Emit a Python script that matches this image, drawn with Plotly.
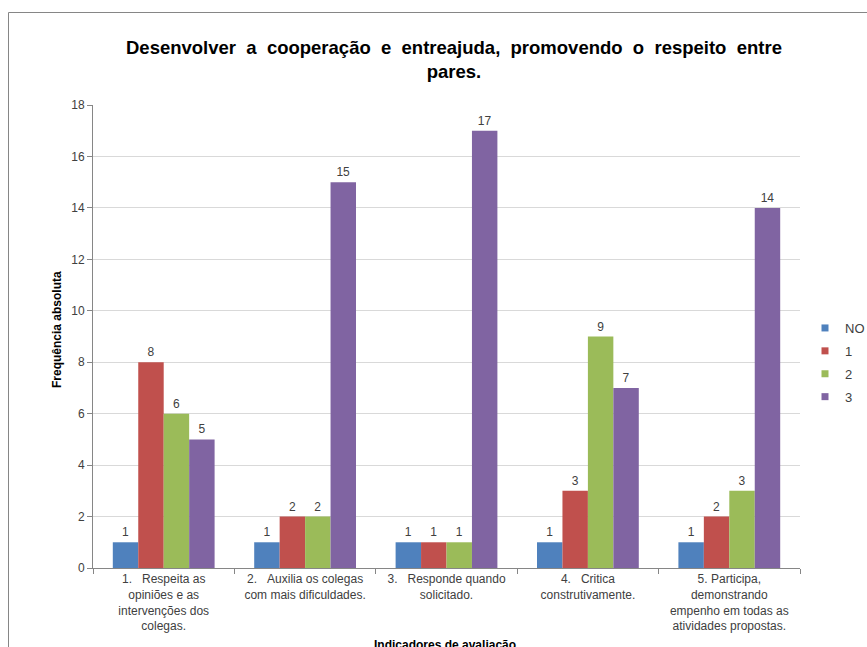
import plotly.graph_objects as go

categories = [
    "1.\u00a0\u00a0\u00a0Respeita as<br>opiniões e as<br>intervenções dos<br>colegas.",
    "2.\u00a0\u00a0\u00a0Auxilia os colegas<br>com mais dificuldades.",
    "3.\u00a0\u00a0\u00a0Responde quando<br>solicitado.",
    "4.\u00a0\u00a0\u00a0Critica<br>construtivamente.",
    "5. Participa,<br>demonstrando<br>empenho em todas as<br>atividades propostas.",
]
series_names = ["NO", "1", "2", "3"]
vals_NO = [1, 1, 1, 1, 1]
vals_1 = [8, 2, 1, 3, 2]
vals_2 = [6, 2, 1, 9, 3]
vals_3 = [5, 15, 17, 7, 14]
colors = ["#4F81BD", "#C0504D", "#9BBB59", "#8064A2"]
y_ticks = [0, 2, 4, 6, 8, 10, 12, 14, 16, 18]

W, H = 867, 647
L, R, T, B = 93, 800, 105, 568

def px_x(x):
    return (x - L) / (R - L)

def px_y(y):
    return (B - y) / (B - T)

fig = go.Figure()
for name, vals, col in zip(series_names, [vals_NO, vals_1, vals_2, vals_3], colors):
    fig.add_trace(go.Bar(
        x=categories, y=vals, name=name, marker=dict(color=col, line=dict(width=0)),
        text=[str(v) for v in vals], textposition="outside", cliponaxis=False,
        textfont=dict(family="Liberation Sans, Arial", size=12, color="#404040"),
        showlegend=False,
    ))
    fig.add_trace(go.Scatter(
        x=[None], y=[None], mode="markers", name=name, legendgroup="g" + name,
        marker=dict(symbol="square", size=7, color=col),
        showlegend=True,
    ))

fig.update_layout(
    width=W, height=H,
    margin=dict(l=L, r=W - R, t=T, b=H - B, autoexpand=False),
    paper_bgcolor="white", plot_bgcolor="white",
    barmode="group", bargap=0.28, bargroupgap=0,
    font=dict(family="Liberation Sans, Arial", size=12, color="#404040"),
    legend=dict(
        x=px_x(805), y=px_y(313), xanchor="left", yanchor="top",
        font=dict(size=13, color="#404040"), bgcolor="rgba(0,0,0,0)",
        itemwidth=30, tracegroupgap=3,
    ),
    showlegend=True,
)
fig.update_xaxes(
    showline=True, linecolor="#868686", linewidth=1,
    ticks="outside", tickcolor="#868686", ticklen=5, tickson="boundaries",
    tickfont=dict(size=12, color="#404040"),
    showgrid=False,
)
fig.update_yaxes(
    range=[0, 18], tickvals=y_ticks,
    showline=True, linecolor="#868686", linewidth=1,
    ticks="outside", tickcolor="#868686", ticklen=5,
    showgrid=True, gridcolor="#D9D9D9", gridwidth=1,
    tickfont=dict(size=12, color="#404040"), zeroline=False,
)

# Title
fig.add_annotation(
    text="<b>Desenvolver  a  cooperação  e  entreajuda,  promovendo  o  respeito  entre<br>pares.</b>",
    xref="paper", yref="paper", x=px_x(454), y=px_y(60), xanchor="center", yanchor="middle",
    showarrow=False, font=dict(family="Liberation Sans, Arial", size=18.5, color="#000000"),
    align="center",
)
# Y axis title
fig.add_annotation(
    text="<b>Frequência absoluta</b>", textangle=-90,
    xref="paper", yref="paper", x=px_x(57), y=px_y(330), xanchor="center", yanchor="middle",
    showarrow=False, font=dict(family="Liberation Sans, Arial", size=12, color="#000000"),
)
# X axis title
fig.add_annotation(
    text="<b>Indicadores de avaliação</b>",
    xref="paper", yref="paper", x=px_x(445), y=px_y(645), xanchor="center", yanchor="middle",
    showarrow=False, font=dict(family="Liberation Sans, Arial", size=12, color="#000000"),
)
# Chart border
fig.add_shape(type="rect", xref="paper", yref="paper",
              x0=px_x(8.5), x1=px_x(880), y0=px_y(12.5), y1=px_y(700),
              line=dict(color="#868686", width=1), fillcolor="rgba(0,0,0,0)", layer="below")

fig.write_html("out.html")
